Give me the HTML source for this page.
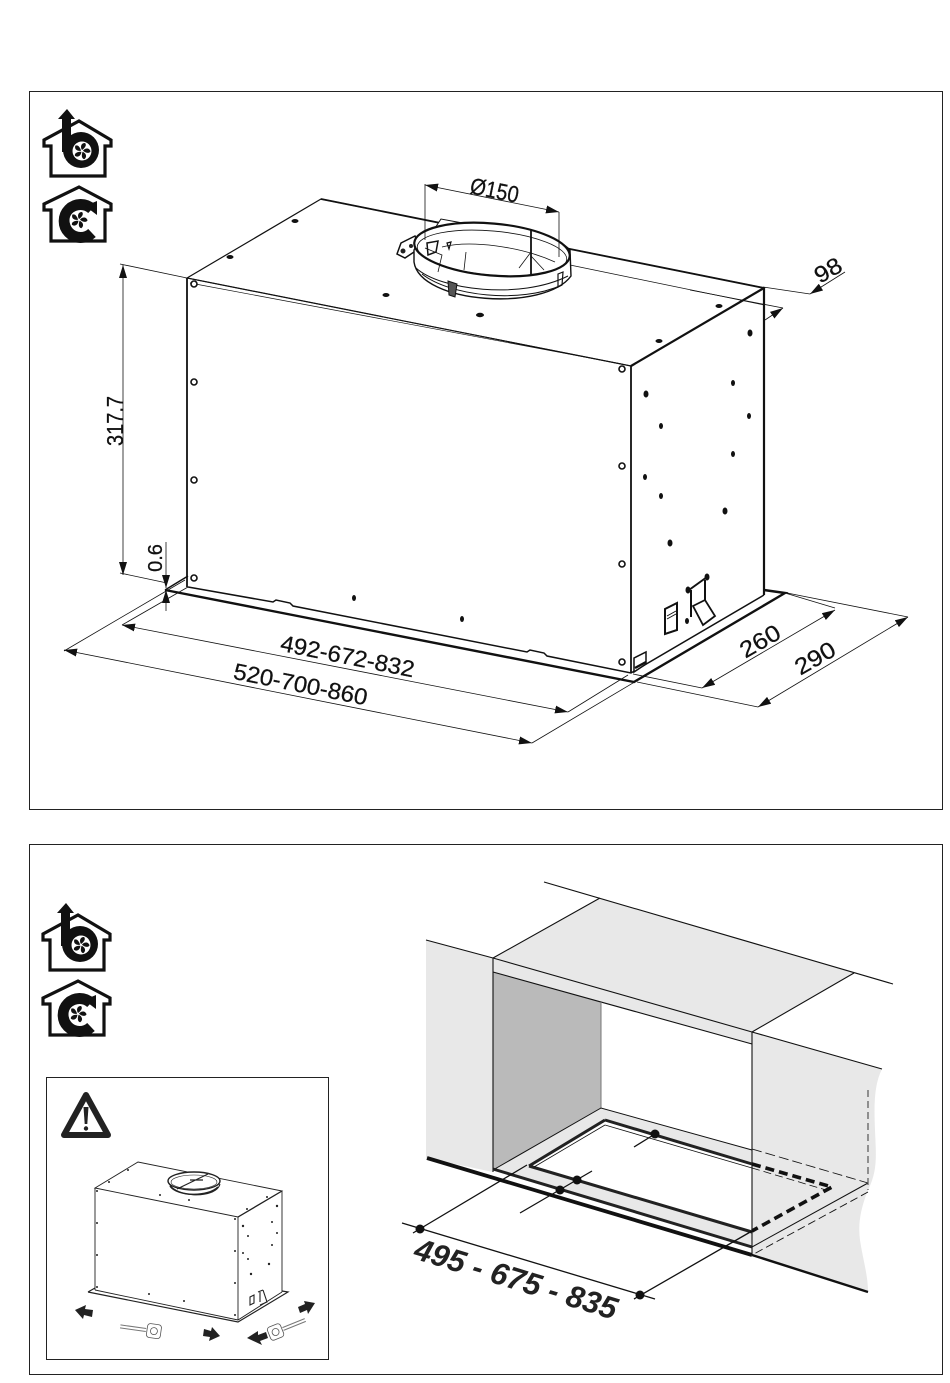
<!DOCTYPE html>
<html><head><meta charset="utf-8"><style>
html,body{margin:0;padding:0;background:#fff}
svg{display:block}
text{font-family:"Liberation Sans",sans-serif;fill:#111}
.d text{font-size:23px}
</style></head><body>
<svg width="950" height="1383" viewBox="0 0 950 1383" xmlns="http://www.w3.org/2000/svg">
<defs>
<marker id="a" markerUnits="userSpaceOnUse" markerWidth="13" markerHeight="8" refX="0" refY="4" orient="auto" viewBox="0 0 13 8"><path d="M0 4L13 0V8Z" fill="#111"/></marker>
<marker id="b" markerUnits="userSpaceOnUse" markerWidth="13" markerHeight="8" refX="13" refY="4" orient="auto" viewBox="0 0 13 8"><path d="M13 4L0 0V8Z" fill="#111"/></marker>
<g id="blade"><path d="M0 -1C-2-4-1-8 3-8C5-6 3-3 0-1Z" fill="#111"/></g>
<g id="fan"><use href="#blade"/><use href="#blade" transform="rotate(72)"/><use href="#blade" transform="rotate(144)"/><use href="#blade" transform="rotate(216)"/><use href="#blade" transform="rotate(288)"/></g>
<g id="ib">
<path d="M44 146V140L79 121L111 140V146H105V176H51V146Z" fill="#fff" stroke="#111" stroke-width="3.2" stroke-linejoin="miter"/>
<rect x="62" y="118" width="9" height="34" fill="#111"/>
<path d="M58 119H75L67 109Z" fill="#111"/>
<circle cx="81" cy="150" r="18" fill="#111"/>
<circle cx="82" cy="151" r="9.500" fill="#fff"/>
<use href="#fan" transform="translate(82 151)"/>
</g>
<g id="ic">
<path d="M44 210V204L79 187L111 204V210H105V241H51V210Z" fill="#fff" stroke="#111" stroke-width="3.2"/>
<path d="M92 233A16.500 16.500 0 1 1 92 209" fill="none" stroke="#111" stroke-width="11"/>
<path d="M85 206L97 201L97 215Z" fill="#111"/>
<circle cx="79" cy="220" r="9.500" fill="#fff"/>
<use href="#fan" transform="translate(79 220)"/>
</g>
</defs>
<rect x="29.500" y="91.500" width="913" height="718" fill="none" stroke="#222" stroke-width="1"/>
<rect x="29.500" y="844.500" width="913" height="530" fill="none" stroke="#222" stroke-width="1"/>
<rect x="46.500" y="1077.500" width="282" height="282" fill="none" stroke="#222" stroke-width="1"/>
<use href="#ib"/><use href="#ic"/>
<use href="#ib" transform="translate(-1 794)"/><use href="#ic" transform="translate(-1 794)"/>

<!-- main box -->
<g fill="none" stroke="#111">
<path d="M187 278L321 199L764 288L631 366Z" fill="#fff" stroke-width="1.200"/>
<path d="M321 199L764 288" stroke-width="1.800"/>
<path d="M631 366L764 288" stroke-width="2.200"/>
<path d="M190 283L622 364" stroke-width=".7"/>
<path d="M187 278L631 366" stroke-width="1"/>
<path d="M187 278V587" stroke-width="1.800"/>
<path d="M631 366V673" stroke-width="1.800"/>
<path d="M764 288V595" stroke-width="2.200"/>
<path d="M188 587L273 602L276 600L290 603L293 606L527 652L530 650L544 653L547 656L631 673L764 595" stroke-width="1.500"/>
<path d="M165 590L634 682L785 593L764 590" stroke-width="2.400"/>
<path d="M165 590L188 576" stroke-width="1.500"/>
<!-- screws -->
<g stroke-width="1.600" fill="#fff">
<circle cx="194" cy="284" r="3"/><circle cx="194" cy="382" r="3"/><circle cx="194" cy="480" r="3"/><circle cx="194" cy="578" r="3"/>
<circle cx="622" cy="369" r="3"/><circle cx="622" cy="466" r="3"/><circle cx="622" cy="564" r="3"/><circle cx="622" cy="662" r="3"/>
</g>
</g>
<g fill="#111">
<ellipse cx="230" cy="257" rx="3.500" ry="2"/><ellipse cx="295" cy="221" rx="3.500" ry="2"/><ellipse cx="386" cy="295" rx="3.500" ry="2"/><ellipse cx="480" cy="315" rx="4" ry="2.200"/><ellipse cx="719" cy="306" rx="3.500" ry="2"/><ellipse cx="659" cy="341" rx="3.500" ry="2"/>
<ellipse cx="750" cy="333" rx="2.500" ry="3.500"/><ellipse cx="646" cy="394" rx="2.500" ry="3.500"/><ellipse cx="733" cy="383" rx="2" ry="3"/><ellipse cx="749" cy="416" rx="2" ry="3"/><ellipse cx="661" cy="426" rx="2" ry="3"/><ellipse cx="733" cy="454" rx="2" ry="3"/><ellipse cx="645" cy="477" rx="2" ry="3"/><ellipse cx="661" cy="496" rx="2" ry="3"/><ellipse cx="725" cy="511" rx="2.500" ry="3.500"/><ellipse cx="670" cy="543" rx="2.500" ry="3.500"/>
<ellipse cx="354" cy="598" rx="2" ry="3"/><ellipse cx="462" cy="619" rx="2" ry="3"/>
<ellipse cx="688" cy="590" rx="2.500" ry="3.500"/><ellipse cx="707" cy="577" rx="2.500" ry="3.500"/><ellipse cx="687" cy="621" rx="2" ry="3"/>
</g>
<!-- side brackets -->
<g fill="none" stroke="#111">
<path d="M665 609L677 603V630L665 634Z" fill="#fff" stroke-width="2"/><path d="M667 616L676 611M667 619L676 614" stroke-width="1"/>
<path d="M689 590L707 577M691 590V617M705 580V601" stroke-width="2"/>
<path d="M693 606L705 600L715 616L703 625Z" fill="#fff" stroke-width="1.800"/>
<path d="M634 658L646 652V664L634 672Z" fill="#fff" stroke-width="1.500"/><path d="M635 668L646 662" stroke-width="2.400"/>
</g>
<!-- collar -->
<g fill="none" stroke="#111">
<path d="M435 228L441 219L468 224L520 240L470 260Z" fill="#fff" stroke-width="1"/>
<path d="M397 254L401 243L415 236L420 248L405 258Z" fill="#fff" stroke-width="1.500"/>
<circle cx="403" cy="251" r="2.500" fill="#222" stroke="none"/><circle cx="411" cy="246" r="2" fill="#222" stroke="none"/>
<path d="M414 262C420 304 545 312 571 276L570 250C540 220 430 215 414 250Z" fill="#fff" stroke-width="1.400"/>
<ellipse cx="492" cy="249.500" rx="78" ry="26" transform="rotate(5 492 249.500)" fill="#fff" stroke-width="2.200"/>
<ellipse cx="492" cy="253" rx="75" ry="22" transform="rotate(5 492 253)" stroke-width=".8"/>
<path d="M416 268C440 290 520 300 568 276M422 274C450 296 520 304 562 285" stroke-width="1"/>
<path d="M531 229V274" stroke-width="1.800"/>
<path d="M425 248L442 255L438 272M442 247C470 240 520 246 555 262M466 252L464 270M531 252L519 268M531 256L544 270" stroke-width=".8"/>
<path d="M427 243L438 241L436 252L428 255Z" stroke-width="1.500"/><path d="M447 243L451 242L449 249Z" stroke-width="1.200"/>
<path d="M448 281L457 284L455 297L449 295Z" fill="#555" stroke-width="1"/>
<path d="M558 274L563 272L562 285L558 287Z" stroke-width="1.200"/>
<path d="M570 265L764 305" stroke-width=".7"/>
</g>
<!-- dimensions -->
<g class="d" fill="none" stroke="#111" stroke-width=".8">
<path d="M425 184V240M559 212V257"/>
<path d="M425 185L559 212" marker-start="url(#a)" marker-end="url(#b)"/>
<path d="M120 264L187 278M120 573L167 583"/>
<path d="M123 265V575" marker-start="url(#a)" marker-end="url(#b)"/>
<path d="M166 542V588" marker-end="url(#b)"/>
<path d="M166 611V590" marker-end="url(#b)"/>
<path d="M185 580L64 651M188 587L122 625M628 675L568 712M638 680L532 743"/>
<path d="M122 625L568 712" marker-start="url(#a)" marker-end="url(#b)"/>
<path d="M64 650L532 743" marker-start="url(#a)" marker-end="url(#b)"/>
<path d="M633 674L702 688M637 682L758 707M785 593L835 608M782 592L908 617"/>
<path d="M702 688L835 610" marker-start="url(#a)" marker-end="url(#b)"/>
<path d="M758 707L908 617" marker-start="url(#a)" marker-end="url(#b)"/>
<path d="M763 287L810 294M690 290L783 308"/>
<path d="M845 272L810 294" marker-end="url(#b)"/>
<path d="M765 320L783 308" marker-end="url(#b)"/>
<g stroke="#111" stroke-width=".25">
<text x="0" y="0" text-anchor="middle" textLength="49" lengthAdjust="spacingAndGlyphs" transform="translate(493 198) rotate(11.500)">Ø150</text>
<text x="0" y="0" text-anchor="middle" textLength="50" lengthAdjust="spacingAndGlyphs" transform="translate(123 421) rotate(-90)">317.7</text>
<text x="0" y="0" text-anchor="middle" transform="translate(162 558) rotate(-90)" style="font-size:20px">0.6</text>
<text x="0" y="0" text-anchor="middle" textLength="28" lengthAdjust="spacingAndGlyphs" transform="translate(832 277) rotate(-30)">98</text>
<text x="0" y="0" text-anchor="middle" textLength="136" lengthAdjust="spacingAndGlyphs" transform="translate(346 664) rotate(11.300)">492-672-832</text>
<text x="0" y="0" text-anchor="middle" textLength="136" lengthAdjust="spacingAndGlyphs" transform="translate(299 692) rotate(11.300)">520-700-860</text>
<text x="0" y="0" text-anchor="middle" textLength="43" lengthAdjust="spacingAndGlyphs" transform="translate(764 648) rotate(-30)">260</text>
<text x="0" y="0" text-anchor="middle" textLength="43" lengthAdjust="spacingAndGlyphs" transform="translate(819 665) rotate(-30)">290</text>
</g>
</g>

<!-- wall diagram -->
<g stroke="#111" fill="none">
<path d="M426 940L493 958V1172L426 1158Z" fill="#e8e8e8" stroke="none"/>
<path d="M493 958L600 898L854 973L752 1032Z" fill="#e8e8e8" stroke="none"/>
<path d="M493 958L752 1032V1044L493 972Z" fill="#e8e8e8" stroke="none"/>
<path d="M493 972L601 1002V1108L493 1170Z" fill="#bababa" stroke="none"/>
<path d="M752 1032L882 1069C874 1085 874 1105 875 1130C876 1155 878 1170 868 1190C860 1210 858 1225 860 1240C863 1260 868 1275 868 1292L752 1255Z" fill="#e8e8e8" stroke="none"/>
<path d="M601 1108L752 1150V1164L605 1120L529 1166L752 1232V1247L493 1170Z" fill="#e8e8e8" stroke="none"/>
<path d="M752 1150L868 1184L752 1247V1232L832 1187L752 1164Z" fill="#e8e8e8" stroke="none"/>
<path d="M544 882L893 984M426 940L493 958M493 958L600 898M854 973L752 1032M493 958L752 1032L882 1069M493 972L752 1044" stroke-width="1.100"/>
<path d="M493 958V1172M752 1032V1255" stroke-width="1.100"/>
<path d="M601 1002V1108" stroke="#777" stroke-width="1"/>
<path d="M493 1170L601 1108L752 1150" stroke-width="1"/>
<path d="M605 1120L752 1164M529 1166L605 1120M529 1166L752 1232M493 1169L752 1247" stroke="#222" stroke-width="3"/>
<path d="M427 1158L752 1255" stroke-width="3.800"/>
<path d="M752 1255L868 1292" stroke-width="2.400"/>
<path d="M605 1125L752 1168" stroke-width=".8"/><path d="M605 1125L534 1167" stroke-width=".8"/>
<path d="M752 1164L832 1187L752 1231" stroke-width="3.600" stroke-dasharray="9 5"/>
<path d="M752 1149L868 1183" stroke-width=".9" stroke-dasharray="10 4"/>
<path d="M752 1168L826 1190" stroke-width=".8" stroke-dasharray="8 4"/>
<path d="M868 1183L752 1247" stroke-width="1"/>
<path d="M868 1192L752 1255" stroke-width=".9" stroke-dasharray="8 4"/>
<path d="M868 1090V1190" stroke="#555" stroke-width="1.200" stroke-dasharray="7 4"/>
<path d="M402 1223L655 1299" stroke-width="1.300"/>
<path d="M413 1233L527 1165M634 1299L752 1231" stroke-width="1.300"/>
<path d="M634 1147L655 1134M520 1213L592 1171" stroke-width="1.300"/>
</g>
<g fill="#111"><circle cx="420" cy="1229" r="4.500"/><circle cx="640" cy="1295" r="4.500"/><circle cx="655" cy="1134" r="4.500"/><circle cx="560" cy="1190" r="4.500"/><circle cx="577" cy="1180" r="4.500"/></g>
<text x="0" y="0" text-anchor="middle" transform="translate(513 1289) rotate(17)" style="font-size:31px;font-weight:bold;font-style:italic;fill:#222">495 - 675 - 835</text>

<!-- warning -->
<path d="M86 1095L108 1135H64Z" fill="#fff" stroke="#222" stroke-width="6" stroke-linejoin="round"/>
<path d="M83.500 1107H88.500L87.300 1124H84.700Z" fill="#222"/><circle cx="86" cy="1128.500" r="2.200" fill="#222"/>

<!-- inset box -->
<g fill="none" stroke="#222">
<path d="M95 1188L138 1162L282 1191L238 1217Z" fill="#fff" stroke-width=".9"/>
<path d="M95 1188V1290M238 1217V1320M282 1191V1292" stroke-width=".9"/>
<path d="M282 1191L238 1217" stroke-width="1.300"/>
<path d="M95 1290L238 1320L282 1292" stroke-width=".9"/>
<path d="M88 1292L238 1322L288 1292L282 1291M88 1292L95 1288" stroke-width="1.200"/>
<path d="M168 1180C170 1198 216 1200 220 1184" fill="#fff" stroke-width="1"/>
<ellipse cx="194" cy="1181" rx="26" ry="9" stroke-width="1.400" fill="#fff"/>
<ellipse cx="194" cy="1182" rx="23" ry="7" stroke-width=".6"/>
<path d="M170 1186C178 1197 208 1197 218 1187" stroke-width="1.500"/>
<path d="M177 1189L208 1174M190 1180H203" stroke-width="1.200"/>
<path d="M250 1297L254 1295V1303L250 1305ZM258 1292L263 1290M260 1292V1302M263 1290L267 1302L260 1305" stroke-width="1.100"/>
<g transform="translate(146 1330) rotate(8)"><path d="M0 -1.500H-26M0 1.500H-26" stroke="#777" stroke-width="1"/><rect x="1" y="-7" width="14" height="14" rx="3" fill="#fff" stroke="#555" stroke-width=".8"/><circle cx="8" cy="0" r="3.500" stroke="#555" stroke-width=".8"/></g>
<g transform="translate(283 1329) rotate(-22)"><path d="M0 -1.500H24M0 1.500H24" stroke="#777" stroke-width="1"/><rect x="-15" y="-7" width="14" height="14" rx="3" fill="#fff" stroke="#555" stroke-width=".8"/><circle cx="-8" cy="0" r="3.500" stroke="#555" stroke-width=".8"/></g>
</g>
<g fill="#222">
<circle cx="97" cy="1191" r="1"/><circle cx="97" cy="1223" r="1"/><circle cx="97" cy="1255" r="1"/><circle cx="97" cy="1287" r="1"/><circle cx="235" cy="1219" r="1"/><circle cx="235" cy="1251" r="1"/><circle cx="235" cy="1283" r="1"/><circle cx="235" cy="1315" r="1"/>
<circle cx="109" cy="1182" r="1"/><circle cx="128" cy="1170" r="1"/><circle cx="160" cy="1195" r="1"/><circle cx="189" cy="1200" r="1"/><circle cx="267" cy="1197" r="1"/><circle cx="247" cy="1209" r="1"/>
<circle cx="277" cy="1206" r="1.200"/><circle cx="243" cy="1226" r="1.200"/><circle cx="272" cy="1222" r="1"/><circle cx="277" cy="1233" r="1"/><circle cx="248" cy="1236" r="1"/><circle cx="272" cy="1245" r="1"/><circle cx="243" cy="1253" r="1"/><circle cx="248" cy="1259" r="1"/><circle cx="269" cy="1264" r="1.200"/><circle cx="251" cy="1274" r="1.200"/><circle cx="149" cy="1294" r="1"/><circle cx="184" cy="1301" r="1"/>
<path d="M75 1310L86 1305L85 1309L93 1310L92 1317L84 1315L83 1319Z"/>
<path d="M220 1336L209 1341L210 1337L203 1336L204 1329L211 1331L212 1327Z"/>
<path d="M247 1338L258 1331L258 1335L266 1332L268 1338L260 1341L262 1345Z"/>
<path d="M315 1303L304 1301L305 1304L298 1307L300 1313L307 1310L308 1314Z"/>
</g>
</svg>
</body></html>
